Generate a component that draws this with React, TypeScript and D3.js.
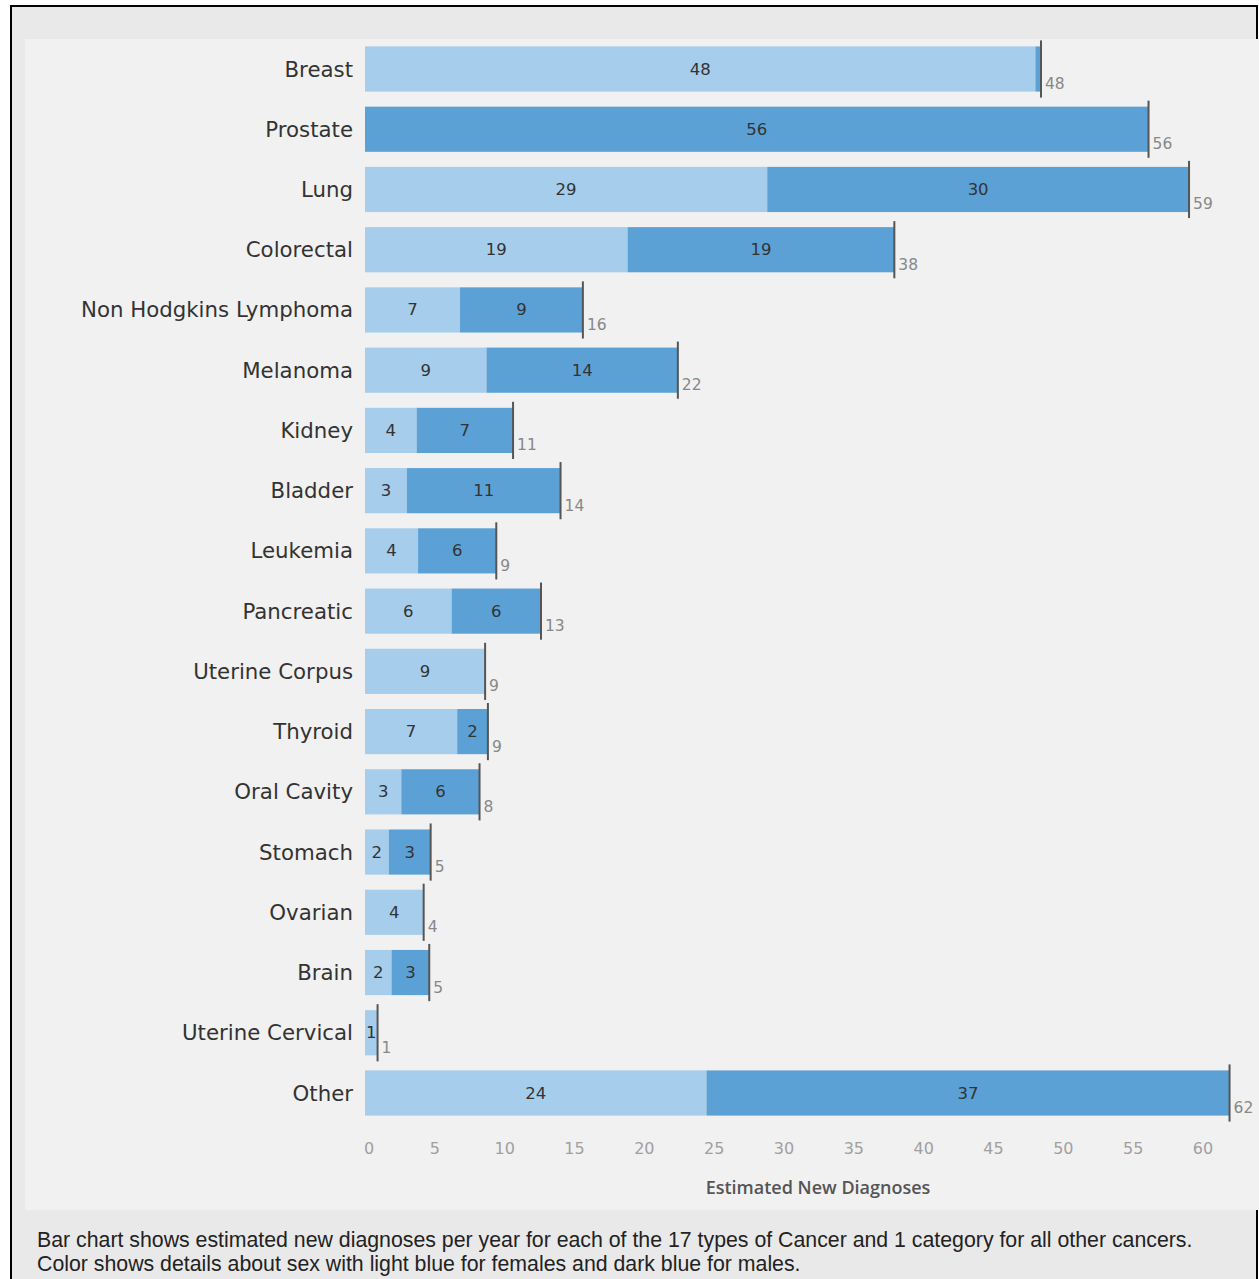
import React from "react";
import * as d3 from "d3";

const categories = [
  "Breast", "Prostate", "Lung", "Colorectal", "Non Hodgkins Lymphoma", "Melanoma",
  "Kidney", "Bladder", "Leukemia", "Pancreatic", "Uterine Corpus", "Thyroid",
  "Oral Cavity", "Stomach", "Ovarian", "Brain", "Uterine Cervical", "Other",
];
const female = [48.0, 0, 28.8, 18.8, 6.8, 8.7, 3.7, 3.0, 3.8, 6.2, 8.6, 6.6, 2.6, 1.7, 4.2, 1.9, 0.9, 24.45];
const male = [0.4, 56.1, 30.2, 19.1, 8.8, 13.7, 6.9, 11.0, 5.6, 6.4, 0, 2.2, 5.6, 3.0, 0, 2.7, 0, 37.45];
const xTicks = [0, 5, 10, 15, 20, 25, 30, 35, 40, 45, 50, 55, 60];
const captionLines = [
  "Bar chart shows estimated new diagnoses per year for each of the 17 types of Cancer and 1 category for all other cancers.",
  "Color shows details about sex with light blue for females and dark blue for males.",
];

const W = 1259;
const H = 1279;
const LIGHT = "#a6cdec";
const DARK = "#5ba1d5";
const FONT = "'DejaVu Sans', sans-serif";

export default function App() {
  const x = d3.scaleLinear().domain([0, 60]).range([365, 1203]);
  const y = d3.scalePoint<string>().domain(categories).range([69, 1093]);
  const step = y.step();
  const barH = step * 0.75;
  const fmt = d3.format(".0f");

  return (
    <svg width={W} height={H} style={{ position: "absolute", left: 0, top: 0, display: "block" }}>
      <rect x={0} y={0} width={W} height={H} fill="#ffffff" />
      <rect x={11} y={6} width={1246} height={H} fill="#e9e9e9" stroke="#000" strokeWidth={2} />
      <rect x={25} y={39} width={W - 25} height={1171} fill="#f1f1f1" />
      {categories.map((c, i) => {
        const cy = y(c)!;
        const f = female[i];
        const m = male[i];
        const t = f + m;
        return (
          <g key={c}>
            <text x={353} y={cy} textAnchor="end" dominantBaseline="central" fontFamily={FONT} fontSize={21.3} fill="#333">
              {c}
            </text>
            {f > 0 && (
              <rect x={x(0)} y={cy - barH / 2} width={x(f) - x(0)} height={barH} fill={LIGHT} />
            )}
            {m > 0 && (
              <rect x={x(f)} y={cy - barH / 2} width={x(f + m) - x(f)} height={barH} fill={DARK} />
            )}
            {f >= 0.8 && (
              <text x={(x(0) + x(f)) / 2} y={cy} textAnchor="middle" dominantBaseline="central" fontFamily={FONT} fontSize={16.5} fill="#333">
                {fmt(f)}
              </text>
            )}
            {m >= 1 && (
              <text x={(x(f) + x(f + m)) / 2} y={cy} textAnchor="middle" dominantBaseline="central" fontFamily={FONT} fontSize={16.5} fill="#333">
                {fmt(m)}
              </text>
            )}
            <line x1={x(t)} x2={x(t)} y1={cy - barH / 2 - 6} y2={cy + barH / 2 + 6} stroke="#555" strokeWidth={2} />
            <text x={x(t) + 4} y={cy + 15} dominantBaseline="central" fontFamily={FONT} fontSize={15.5} fill="#888">
              {fmt(t)}
            </text>
          </g>
        );
      })}
      {xTicks.map((v) => (
        <text key={v} x={x(v) + (v === 0 ? 4 : 0)} y={1148} textAnchor="middle" dominantBaseline="central" fontFamily={FONT} fontSize={16} fill="#a0a0a0">
          {v}
        </text>
      ))}
      <text x={818} y={1187} textAnchor="middle" dominantBaseline="central" fontFamily="'Open Sans', sans-serif" fontWeight={600} fontSize={18} fill="#555">
        Estimated New Diagnoses
      </text>
      {captionLines.map((l, i) => (
        <text key={i} x={37} y={1247 + i * 24} fontFamily="'Liberation Sans', Arial, sans-serif" fontSize={21.3} fill="#222">
          {l}
        </text>
      ))}
    </svg>
  );
}
